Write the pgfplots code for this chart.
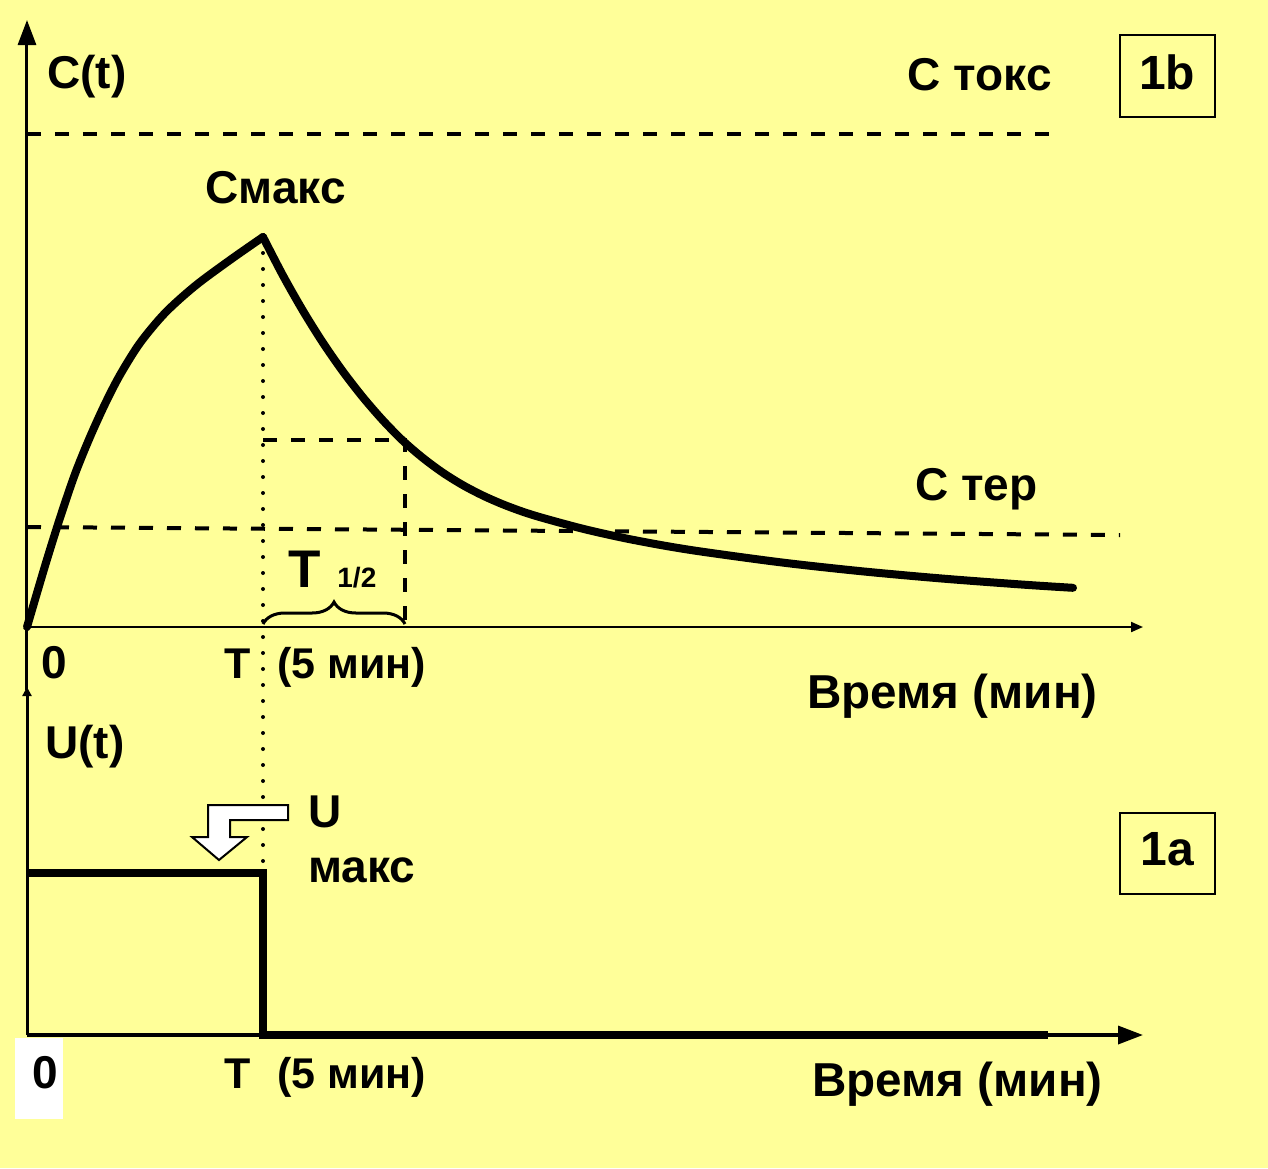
\documentclass[border=0pt]{standalone}
\usepackage{pgfplots}
\pgfplotsset{compat=1.18}
\usepackage{fontspec}
\setmainfont{Liberation Sans}
\usetikzlibrary{arrows.meta,decorations.pathreplacing}
\definecolor{bg}{HTML}{FFFF99}
\begin{document}
\begin{tikzpicture}[font=\fontsize{23}{27}\selectfont\bfseries]
\begin{scope}[x=0.5pt,y=-0.5pt]
\fill[bg] (0,0) rectangle (1268,1168);
\useasboundingbox (0,0) rectangle (1268,1168);
\end{scope}

% ---------- top panel: C(t) ----------
\begin{axis}[at={(13.5pt,-313.5pt)}, anchor=south west, width=558pt, height=303.5pt,
  scale only axis, xmin=0, xmax=23.644, ymin=0, ymax=155.64, hide axis, clip=false]
\draw[line width=1pt, -{Triangle[length=6pt,width=5pt]}] (axis cs:0,0) -- (axis cs:23.644,0);
\draw[line width=1.5pt, -{Triangle[length=12.5pt,width=9pt]}] (axis cs:0,-16.15) -- (axis cs:0,155.64);
% C toks
\addplot[black, line width=2pt, dash pattern=on 7pt off 7pt] coordinates {(0,126.41) (21.674,126.41)};
% C ter
\addplot[black, line width=2pt, dash pattern=on 7pt off 7pt] coordinates {(0,25.64) (23.157,23.59)};
% half-life box
\addplot[black, line width=2pt, dash pattern=on 7pt off 7pt] coordinates {(5,47.95) (8,47.95) (8,0)};
% dotted T line
\addplot[black, line width=2pt, line cap=round, dash pattern=on 0pt off 8pt] coordinates {(5,100) (5,-63.08)};
% rise
\addplot[black, line width=4pt, smooth, line cap=round] coordinates {
(0,0) (0.381,15.64) (0.699,27.95) (1.017,39.23) (1.335,48.72) (1.653,57.18)
(1.970,64.62) (2.394,72.82) (2.924,80.51) (3.559,87.44) (4.301,94.10) (5,100)};
% decay
\addplot[black, line width=4pt, smooth, line cap=round] coordinates {
(5,100) (5.424,90.10) (5.847,81.08) (6.271,72.87) (6.695,65.49) (7.119,58.87)
(7.542,52.97) (7.966,47.74) (8.390,43.33) (8.814,39.54) (9.237,36.36)
(9.661,33.69) (10.085,31.44) (10.508,29.54) (10.932,27.95) (11.780,25.18)
(12.627,22.87) (13.475,20.92) (14.322,19.28) (16.017,16.51) (17.712,14.26)
(19.407,12.41) (21.102,10.87) (22.161,10.05)};
\end{axis}

% ---------- bottom panel: U(t) ----------
\begin{axis}[at={(13.5pt,-517.5pt)}, anchor=south west, width=558pt, height=174pt,
  scale only axis, xmin=0, xmax=23.644, ymin=0, ymax=2.148, hide axis, clip=false]
\draw[line width=1.75pt, -{Triangle[length=12.5pt,width=9pt]}] (axis cs:0,0) -- (axis cs:23.644,0);
\draw[line width=1.5pt, -{Triangle[length=4.5pt,width=4.5pt]}] (axis cs:0,0) -- (axis cs:0,2.148);
\addplot[black, line width=4pt, line join=miter] coordinates {(0,1) (5,1) (5,0) (21.63,0)};
\end{axis}

% ---------- annotations (pixel coordinates) ----------
\begin{scope}[x=0.5pt,y=-0.5pt]
\node[anchor=base west, inner sep=0] at (47,88) {C(t)};
\node[anchor=base east, inner sep=0] at (1052,90) {C токс};
\node[anchor=base west, inner sep=0] at (205,203) {Смакс};
\node[anchor=base west, inner sep=0] at (915,500) {C тер};
\node[anchor=base west, inner sep=0, font=\fontsize{26.5}{30}\selectfont\bfseries] at (288,587) {T};
\node[anchor=base west, inner sep=0, font=\fontsize{14}{16}\selectfont\bfseries] at (337,587) {1/2};
\draw[line width=1.5pt, decorate, decoration={brace, amplitude=11pt}] (263,624) -- (405,624);
\node[anchor=base, inner sep=0] at (54,678) {0};
\node[anchor=base, inner sep=0, font=\fontsize{21.5}{25}\selectfont\bfseries] at (238,678) {T};
\node[anchor=base west, inner sep=0, font=\fontsize{21.5}{25}\selectfont\bfseries] at (277,678) {(5 мин)};
\node[anchor=base west, inner sep=0, font=\fontsize{23.8}{28}\selectfont\bfseries] at (807,708) {Время (мин)};
\node[anchor=base west, inner sep=0] at (45,758) {U(t)};
\node[anchor=base west, inner sep=0] at (308,827) {U};
\node[anchor=base west, inner sep=0] at (308,882) {макс};
% block arrow
\filldraw[fill=white, draw=black, line width=1pt]
 (288,805) -- (208,805) -- (208,837) -- (192,837) -- (219,860) -- (247,837) -- (230,837) -- (230,820) -- (288,820) -- cycle;
% boxes
\draw[line width=1pt] (1120,35) rectangle (1215,117);
\node[anchor=base, inner sep=0, font=\fontsize{24}{28}\selectfont\bfseries] at (1167,89) {1b};
\draw[line width=1pt] (1120,813) rectangle (1215,894);
\node[anchor=base, inner sep=0, font=\fontsize{24}{28}\selectfont\bfseries] at (1167,865) {1a};
% bottom labels
\fill[white] (15,1038) rectangle (63,1119);
\node[anchor=base, inner sep=0] at (45,1088) {0};
\node[anchor=base, inner sep=0, font=\fontsize{21.5}{25}\selectfont\bfseries] at (238,1088) {T};
\node[anchor=base west, inner sep=0, font=\fontsize{21.5}{25}\selectfont\bfseries] at (277,1088) {(5 мин)};
\node[anchor=base west, inner sep=0, font=\fontsize{23.8}{28}\selectfont\bfseries] at (812,1096) {Время (мин)};
\end{scope}
\end{tikzpicture}
\end{document}
